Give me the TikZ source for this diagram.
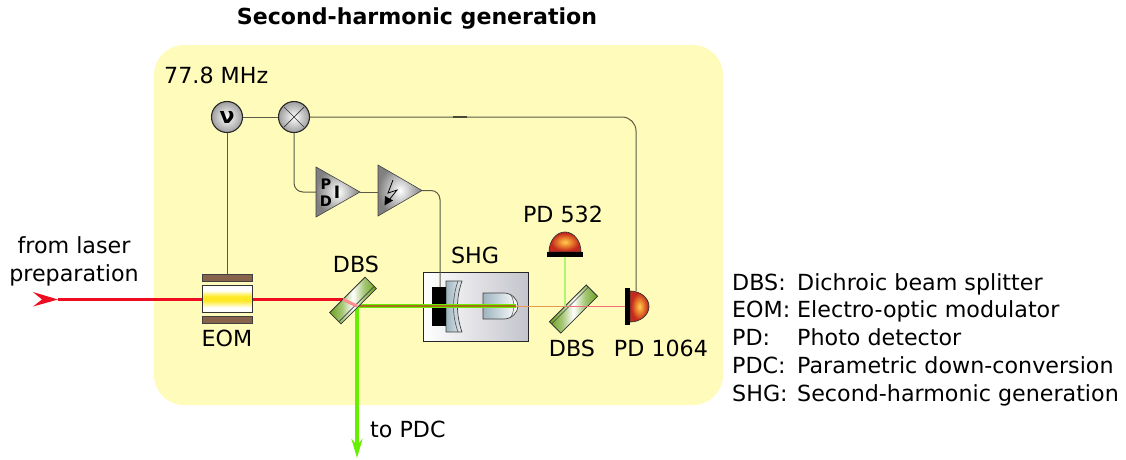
\documentclass[tikz,border=0pt]{standalone}
\usepackage{fontspec}
\setmainfont{DejaVu Sans}
\usetikzlibrary{arrows.meta,shapes.geometric,calc}
\definecolor{panel}{HTML}{FFFBBB}
\definecolor{wire}{HTML}{5A5A45}
\definecolor{brownbar}{HTML}{86634A}
\definecolor{redbeam}{HTML}{EE0C20}
\definecolor{greenbeam}{HTML}{66F000}
\definecolor{mixbeam}{HTML}{A87018}
\definecolor{thinbeam}{HTML}{E59A50}
\definecolor{mirgreen}{HTML}{74A82A}
\definecolor{optic}{HTML}{9DB4C0}
\definecolor{boxgrey}{HTML}{C4C4CC}
\definecolor{pdhot}{HTML}{FFCC50}
\definecolor{pdmid}{HTML}{EE8A30}
\definecolor{pdrim}{HTML}{C42A1C}
\pgfdeclareverticalshading{eomshade}{50bp}{color(0bp)=(white);color(9bp)=(white);color(22bp)=(yellow!80!orange!85);color(30bp)=(yellow!80!orange!85);color(41bp)=(white);color(50bp)=(white)}
\pgfdeclarehorizontalshading{mirshade}{100bp}{color(0bp)=(mirgreen);color(27bp)=(mirgreen);color(38bp)=(mirgreen!65!white);color(50bp)=(white);color(62bp)=(mirgreen!65!white);color(73bp)=(mirgreen);color(100bp)=(mirgreen)}
\pgfdeclareradialshading{pdshade}{\pgfpoint{0bp}{0bp}}{color(0bp)=(pdhot);color(9bp)=(pdmid);color(22bp)=(pdrim);color(50bp)=(pdrim)}
\tikzset{
  x=1pt,y=-1pt,
  lab/.style={font=\fontsize{22.2}{26}\selectfont,inner sep=0pt,anchor=base,text=black},
  legend/.style={font=\fontsize{22.2}{26}\selectfont,inner sep=0pt,anchor=base west,text=black},
  wireline/.style={draw=wire,line width=1pt,rounded corners=9pt},
  knob/.style={circle,draw=black!85,line width=1.1pt,minimum size=31pt,inner sep=0pt,inner color=white,outer color=black!38},
  amp/.style={draw=black!75,line width=.6pt,shade,shading=radial,inner color=white,outer color=black!50},
  mirror/.style={draw=black!80,line width=.8pt,shade,shading=mirshade},
  diode/.style={draw=black!80,line width=.7pt,shade,shading=pdshade},
}
\begin{document}
\begin{tikzpicture}
\useasboundingbox (0,0) rectangle (1126,459);
\fill[panel,rounded corners=30pt] (154,45) rectangle (723,405);
\node[lab,font=\fontsize{22.1}{26}\selectfont\bfseries] (title) at (417,24) {Second-harmonic generation};
\node[legend] (freq) at (164,83) {77.8 MHz};
% coordinates
\coordinate (beamstart) at (58,299.5);
\coordinate (dbsa) at (343,299.5);
\coordinate (turn) at (357,306);
\coordinate (arrowend) at (357,458);
\coordinate (lensend) at (516,306);
\coordinate (dbsb) at (565,306);
\coordinate (pdend) at (626,306);
% beams
\draw[redbeam,line width=3pt] (beamstart) -- (dbsa);
\fill[redbeam] (33,292) -- (58,299.5) -- (33,306.5) -- (42,299.5) -- cycle;
% EOM
\node[draw=black!75,line width=.7pt,fill=brownbar,minimum width=50pt,minimum height=7.5pt,inner sep=0pt] (eomtop) at (227,277.7) {};
\node[draw=black!75,line width=.7pt,fill=brownbar,minimum width=50pt,minimum height=7pt,inner sep=0pt] (eombot) at (227,320.3) {};
\node[draw=black!80,line width=.9pt,minimum width=50pt,minimum height=27pt,inner sep=0pt,shading=eomshade,shade] (eom) at (227,299) {};
\node[lab] (eomlab) at (227,346) {EOM};
% knobs
\node[knob] (nu) at (227,117) {\fontsize{22}{22}\selectfont\bfseries ν};
\node[knob] (mix) at (294,117) {};
\draw[black!80,line width=.7pt] ($(mix)+(-10,-10)$) -- ($(mix)+(10,10)$) ($(mix)+(-10,10)$) -- ($(mix)+(10,-10)$);
% amplifiers
\coordinate (pi1) at (316,167); \coordinate (pi2) at (316,217); \coordinate (pitip) at (360,192);
\coordinate (am1) at (378,165); \coordinate (am2) at (378,216); \coordinate (amtip) at (422,190.5);
\path[amp] (pi1) -- (pitip) -- (pi2) -- cycle;
\path[amp] (am1) -- (amtip) -- (am2) -- cycle;
\node[inner sep=0pt,font=\fontsize{14.5}{14}\selectfont\bfseries] (p) at (326,184) {P};
\node[inner sep=0pt,font=\fontsize{14.5}{14}\selectfont\bfseries] (d) at (326,201) {D};
\node[inner sep=0pt,font=\fontsize{17}{17}\selectfont\bfseries] (i) at (337,192) {I};
\draw[black,line width=.8pt] (393,180) -- (388,193) -- (397,190) -- (389,200);
\fill[black] (384.5,205.5) -- (385,196) -- (393,200.5) -- cycle;
% SHG box
\node[lab] (shglab) at (475,263) {SHG};
\path[draw=black!85,line width=.7pt,shade,shading angle=45,left color=white,right color=boxgrey] (423,272) rectangle (528,341);
\path[draw=black!75,line width=.7pt,shade,left color=optic,right color=optic!25]
  (446,281) -- (462,281) .. controls (456,298) and (456,315) .. (462,332) -- (446,332) -- cycle;
\draw[black!70,line width=.6pt] (458,281) .. controls (452,298) and (452,315) .. (458,332);
\path[draw=black!75,line width=.7pt,shade,shading angle=20,left color=optic,right color=white]
  (483,293) -- (504,293) .. controls (512,293) and (518,300) .. (518,306) .. controls (518,312) and (512,319) .. (504,319) -- (483,319) -- cycle;
\draw[black!70,line width=.5pt] (510,294) .. controls (515,299) and (515,313) .. (510,318);
% wires
\coordinate (pd1064top) at (636,291);
\node[fill=black,minimum width=14pt,minimum height=39pt,inner sep=0pt] (block) at (439,306.5) {};
\draw[wireline] (nu) -- (mix);
\draw[wireline] (nu) -- (eomtop);
\draw[wireline] (mix) -- (294,192) -- (pi1 |- pitip);
\draw[wireline] (pitip) -- (am1 |- pitip);
\draw[wireline] (amtip) -- (440,190.5) -- (440,287);
\draw[wireline,rounded corners=14pt] (mix) -- (636,117) -- (pd1064top);
\draw[wire!80!black,line width=1.6pt] (453,117) -- (467,117);
% beams after DBS
\draw[greenbeam,line width=4.4pt] (turn) -- (lensend);
\draw[mixbeam,line width=2.6pt] (turn) -- (lensend);
\draw[greenbeam,line width=4pt,-{Stealth[length=19pt,width=11pt]}] (turn) -- (arrowend);
% DBS mirrors
\begin{scope}[shift={(353,300.5)},rotate=45]
\path[mirror] (-25,-8) rectangle (25,8);
\draw[black!75,line width=.6pt] (-25,5) -- (25,5);
\end{scope}
\draw[red!45!white,line width=3pt] (dbsa) -- (turn);
\node[lab] (dbsalab) at (356,272) {DBS};
\coordinate (pd532foot) at (565,257);
\begin{scope}[shift={(573.5,309)},rotate=45]
\path[mirror] (-26,-8) rectangle (26,8);
\draw[black!75,line width=.6pt] (-26,-5) -- (26,-5);
\end{scope}
\draw[greenbeam!55!white,line width=2.6pt] (pd532foot) -- (dbsb);
\draw[redbeam!60!white,line width=.8pt] (dbsb) -- (pdend);
\draw[thinbeam,line width=.8pt] (lensend) -- (dbsb);
\node[lab] (dbsblab) at (572,356) {DBS};
% PD 532
\path[diode] (549,252) arc[x radius=16,y radius=20,start angle=180,end angle=360] -- cycle;
\fill[black] (547,252) rectangle (583,257);
\node[lab] (pd532) at (563,222) {PD 532};
% PD 1064
\path[diode] (630,291) arc[x radius=19,y radius=15.5,start angle=-90,end angle=90] -- cycle;
\fill[black] (625,288) rectangle (630,325);
\node[lab] (pd1064) at (661,356) {PD 1064};
% outside labels
\node[lab] (from) at (74,253) {from laser};
\node[lab] (prep) at (74,281) {preparation};
\node[legend] (topdc) at (370,437) {to PDC};
\node[legend] (k1) at (732,290) {DBS:};
\node[legend] (v1) at (797,290) {Dichroic beam splitter};
\node[legend] (k2) at (732,317) {EOM:};
\node[legend] (v2) at (797,317) {Electro-optic modulator};
\node[legend] (k3) at (732,345) {PD:};
\node[legend] (v3) at (797,345) {Photo detector};
\node[legend] (k4) at (732,373) {PDC:};
\node[legend] (v4) at (797,373) {Parametric down-conversion};
\node[legend] (k5) at (732,401) {SHG:};
\node[legend] (v5) at (797,401) {Second-harmonic generation};
\end{tikzpicture}
\end{document}
